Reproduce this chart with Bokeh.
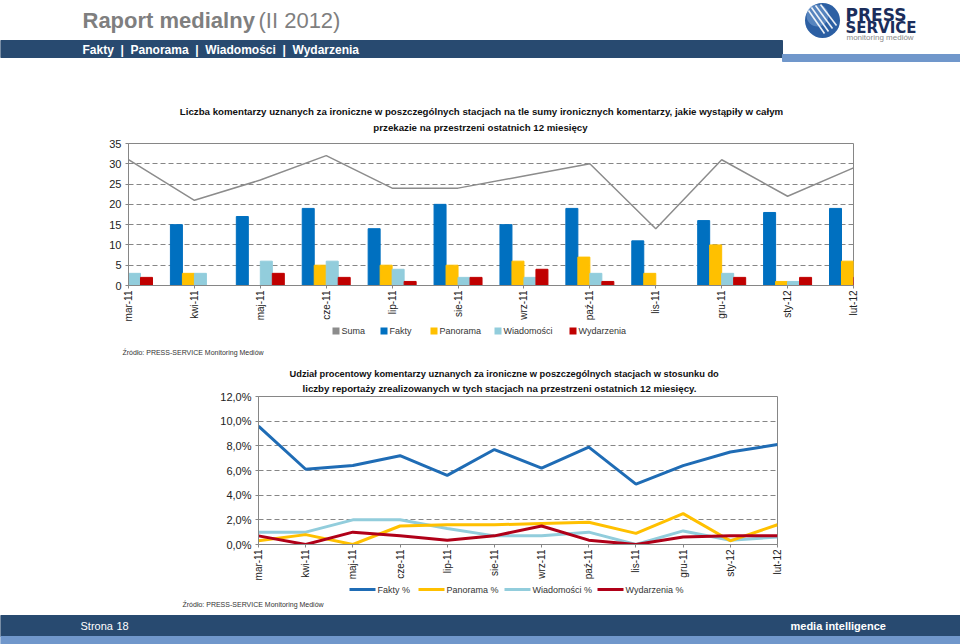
from math import pi
from bokeh.plotting import figure
from bokeh.models import Range1d, FixedTicker, Title, ColumnDataSource
from bokeh.transform import dodge
from bokeh.embed import file_html
from bokeh.resources import INLINE
from bokeh.core.properties import value

# ---------------- data ----------------
months = ["mar-11", "kwi-11", "maj-11", "cze-11", "lip-11", "sie-11",
          "wrz-11", "paź-11", "lis-11", "gru-11", "sty-12", "lut-12"]
suma = [31, 21, 26, 32, 24, 24, 27, 30, 14, 31, 22, 29]
fakty = [25, 15, 17, 19, 14, 20, 15, 19, 11, 16, 18, 19]
panorama = [1, 3, 0, 5, 5, 5, 6, 7, 3, 10, 1, 6]
wiadomosci = [3, 3, 6, 6, 4, 2, 2, 3, 0, 3, 1, 2]
wydarzenia = [2, 0, 3, 2, 1, 2, 4, 1, 0, 2, 2, 2]

fakty_pct = [9.6, 6.1, 6.4, 7.2, 5.6, 7.7, 6.2, 7.9, 4.9, 6.4, 7.5, 8.1]
panorama_pct = [0.3, 0.8, 0.0, 1.5, 1.6, 1.6, 1.7, 1.8, 0.9, 2.5, 0.3, 1.6]
wiadomosci_pct = [1.0, 1.0, 2.0, 2.0, 1.3, 0.7, 0.7, 1.0, 0.0, 1.1, 0.35, 0.6]
wydarzenia_pct = [0.7, 0.0, 1.0, 0.7, 0.35, 0.7, 1.5, 0.35, 0.0, 0.6, 0.7, 0.7]

count_ticks = [0, 5, 10, 15, 20, 25, 30, 35]
pct_ticks = [0, 2, 4, 6, 8, 10, 12]
pct_labels = ["0,0%", "2,0%", "4,0%", "6,0%", "8,0%", "10,0%", "12,0%"]

title1a = "Liczba komentarzy uznanych za ironiczne w poszczególnych stacjach na tle sumy ironicznych komentarzy, jakie wystąpiły w całym"
title1b = "przekazie na przestrzeni ostatnich 12 miesięcy"
title2a = "Udział procentowy komentarzy uznanych za ironiczne w poszczególnych stacjach w stosunku do"
title2b = "liczby reportaży zrealizowanych w tych stacjach na przestrzeni ostatnich 12 miesięcy."
source_txt = "Źródło: PRESS-SERVICE Monitoring Mediów"
legend1 = ["Suma", "Fakty", "Panorama", "Wiadomości", "Wydarzenia"]
legend2 = ["Fakty %", "Panorama %", "Wiadomości %", "Wydarzenia %"]

FONT = "Liberation Sans"
NAVY = "#284a70"
LIGHT = "#7097cb"
GRAY = "#868686"
C_FAKTY = "#0070c0"
C_PAN = "#ffc000"
C_WIAD = "#92cddc"
C_WYD = "#c00000"
C_SUMA = "#8c8c8c"
L_FAKTY = "#1f6cb5"
L_WYD = "#b00018"
NB = "\u00a0"
colors1 = [C_SUMA, C_FAKTY, C_PAN, C_WIAD, C_WYD]
colors2 = [L_FAKTY, C_PAN, C_WIAD, L_WYD]

# layout positions (page pixels) of the legend entries
leg1_x = [332, 380, 430, 494, 569]
leg2_x = [349, 418, 504, 597]


def deco(h):
    p = figure(width=960, height=h, x_range=Range1d(0, 960), y_range=Range1d(h, 0),
               output_backend="svg", toolbar_location=None, min_border=0,
               x_axis_location=None, y_axis_location=None)
    p.grid.visible = False
    p.outline_line_color = None
    p.background_fill_color = "white"
    p.border_fill_color = "white"
    return p


def txt(p, x, y, s, size, color, bold=False, font=FONT, align="left"):
    p.text(x=[x], y=[y], text=[s], text_font=value(font), text_font_size=size,
           text_font_style="bold" if bold else "normal", text_color=color,
           text_baseline="middle", text_align=align)


def style_axes(p):
    for ax in (p.xaxis[0], p.yaxis[0]):
        ax.major_label_text_font = FONT
        ax.major_label_text_color = "#222222"
        ax.axis_line_color = GRAY
        ax.major_tick_line_color = GRAY
        ax.major_tick_out = 3
        ax.major_tick_in = 0
        ax.minor_tick_line_color = None
    p.xaxis.major_label_text_font_size = "10px"
    p.yaxis.major_label_text_font_size = "11px"
    p.xaxis.major_label_standoff = 2
    p.yaxis.major_label_standoff = 4
    p.xgrid.visible = False
    p.ygrid.grid_line_color = GRAY
    p.ygrid.grid_line_dash = "5 3"
    p.outline_line_color = GRAY
    p.background_fill_color = "white"
    p.border_fill_color = "white"


# ---------------- header ----------------
hd = deco(62)
hd.quad(left=[0], right=[782], top=[40], bottom=[57], color=NAVY)
hd.quad(left=[782], right=[960], top=[54], bottom=[61], color=LIGHT)
txt(hd, 82, 20, "Raport medialny", "22px", "#7f7f7f", bold=True)
txt(hd, 258, 20, "(II 2012)", "22px", "#7f7f7f")
nav = (NB * 2 + "|" + NB * 2).join(["Fakty", "Panorama", "Wiadomości", "Wydarzenia"])
txt(hd, 82, 49, nav, "12px", "white", bold=True)
# logo
hd.circle(x=[822], y=[20], radius=17.5, fill_color="#2c5fa3", line_color=None)
hd.circle(x=[817], y=[15], radius=11, fill_color="#7aa3d6", fill_alpha=0.55, line_color=None)
hd.segment(x0=[808, 811, 815, 820], y0=[10, 7, 5, 4], x1=[824, 828, 832, 836],
           y1=[33, 31, 28, 25], line_color="white", line_width=1.6, line_alpha=0.9)
txt(hd, 845, 14, "PRESS", "17px", "#1b2d5b", bold=True, font="DejaVu Sans")
txt(hd, 845, 27, "SERVICE", "15px", "#1b2d5b", bold=True, font="DejaVu Sans")
txt(hd, 846, 37, "monitoring mediów", "8px", "#8a8a8a")

# ---------------- top chart title ----------------
t1 = deco(74)
txt(t1, 481, 49, title1a, "9.7px", "#111111", bold=True, align="center")
txt(t1, 480, 65, title1b, "9.7px", "#111111", bold=True, align="center")

# ---------------- top chart ----------------
src = ColumnDataSource(dict(x=list(range(len(months))), suma=suma, fakty=fakty,
                            panorama=panorama, wiadomosci=wiadomosci, wydarzenia=wydarzenia))
pt = figure(width=960, height=188, x_range=Range1d(0, 11), y_range=Range1d(0, 35),
            output_backend="svg", toolbar_location=None,
            min_border_left=128, min_border_right=107, min_border_top=7, min_border_bottom=37)
bw = 0.182
pt.vbar(x=dodge("x", -1.5 * bw, range=pt.x_range), top="fakty", width=bw, source=src, color=C_FAKTY)
pt.vbar(x=dodge("x", -0.5 * bw, range=pt.x_range), top="panorama", width=bw, source=src, color=C_PAN)
pt.vbar(x=dodge("x", 0.5 * bw, range=pt.x_range), top="wiadomosci", width=bw, source=src, color=C_WIAD)
pt.vbar(x=dodge("x", 1.5 * bw, range=pt.x_range), top="wydarzenia", width=bw, source=src, color=C_WYD)
pt.line(x="x", y="suma", source=src, line_color=C_SUMA, line_width=1.5)
pt.xaxis.ticker = FixedTicker(ticks=list(range(len(months))))
pt.xaxis.major_label_overrides = {i: m for i, m in enumerate(months)}
pt.xaxis.major_label_orientation = pi / 2
pt.yaxis.ticker = FixedTicker(ticks=count_ticks)
style_axes(pt)

# ---------------- legend strip 1 ----------------
lg1 = deco(21)
lg1.quad(left=leg1_x, right=[x + 7 for x in leg1_x], top=[3] * 5, bottom=[10] * 5,
         fill_color=colors1, line_color=None)
for x, lab in zip(leg1_x, legend1):
    txt(lg1, x + 9, 6.5, lab, "9px", "#333333")

# ---------------- source 1 ----------------
s1 = deco(17)
txt(s1, 122, 7, source_txt, "7px", "#333333")

# ---------------- bottom chart ----------------
src2 = ColumnDataSource(dict(x=list(range(len(months))), f=fakty_pct, p=panorama_pct,
                             w=wiadomosci_pct, d=wydarzenia_pct))
pb = figure(width=960, height=221, x_range=Range1d(0, 11), y_range=Range1d(0, 12),
            output_backend="svg", toolbar_location=None,
            min_border_left=258, min_border_right=183, min_border_top=34, min_border_bottom=38)
pb.line(x="x", y="w", source=src2, line_color=C_WIAD, line_width=3)
pb.line(x="x", y="p", source=src2, line_color=C_PAN, line_width=3)
pb.line(x="x", y="d", source=src2, line_color=L_WYD, line_width=3)
pb.line(x="x", y="f", source=src2, line_color=L_FAKTY, line_width=3)
pb.xaxis.ticker = FixedTicker(ticks=list(range(len(months))))
pb.xaxis.major_label_overrides = {i: m for i, m in enumerate(months)}
pb.xaxis.major_label_orientation = pi / 2
pb.yaxis.ticker = FixedTicker(ticks=pct_ticks)
pb.yaxis.major_label_overrides = {t: s for t, s in zip(pct_ticks, pct_labels)}
style_axes(pb)
# title lines: the first one added sits closest to the frame
pb.add_layout(Title(text=title2b, align="left", text_font=FONT, text_font_size="9.7px",
                    text_font_style="bold", text_color="#111111", offset=44, standoff=5), "above")
pb.add_layout(Title(text=title2a, align="left", text_font=FONT, text_font_size="9.3px",
                    text_font_style="bold", text_color="#111111", offset=31, standoff=0), "above")

# ---------------- legend strip 2 ----------------
lg2 = deco(14)
lg2.segment(x0=leg2_x, x1=[x + 26 for x in leg2_x], y0=[6] * 4, y1=[6] * 4,
            line_color=colors2, line_width=3)
for x, lab in zip(leg2_x, legend2):
    txt(lg2, x + 28, 6, lab, "9px", "#333333")

# ---------------- source 2 ----------------
s2 = deco(15)
txt(s2, 182, 7, source_txt, "7px", "#333333")

# ---------------- footer ----------------
ft = deco(32)
ft.quad(left=[0], right=[960], top=[3], bottom=[24], color=NAVY)
ft.quad(left=[0], right=[960], top=[24], bottom=[32], color=LIGHT)
txt(ft, 80, 13, "Strona", "11px", "white")
txt(ft, 116, 13, "18", "11px", "white")
txt(ft, 790, 13, "media intelligence", "11px", "white", bold=True)

open("out.html", "w").write(file_html([hd, t1, pt, lg1, s1, pb, lg2, s2, ft], INLINE))
